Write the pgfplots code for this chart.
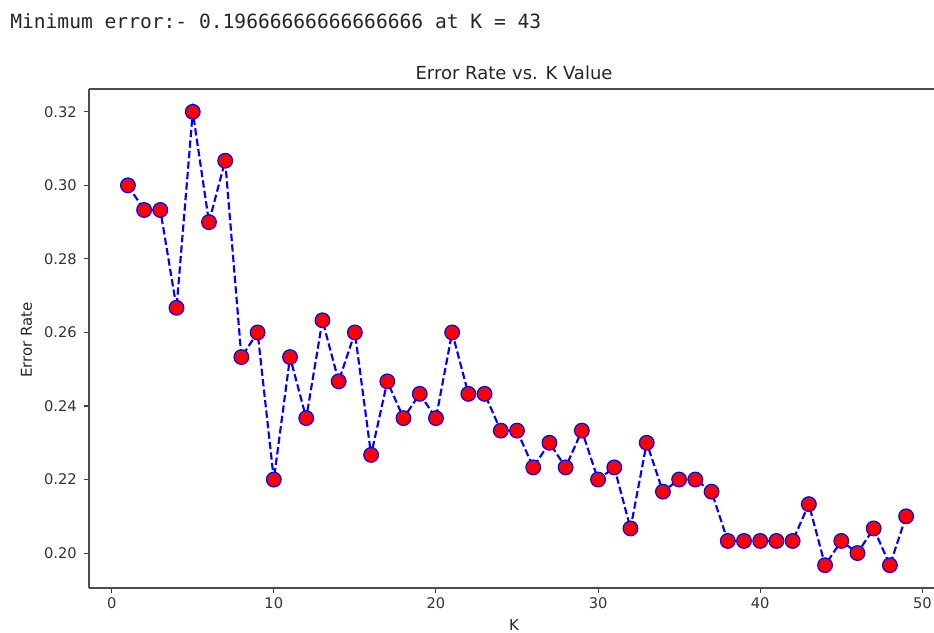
\documentclass[border=0pt]{standalone}
\usepackage{fontspec}
\setmainfont{DejaVu Sans}
\newfontfamily\mono{DejaVu Sans Mono}
\usepackage{pgfplots}
\pgfplotsset{compat=1.18}
\begin{document}
\begin{tikzpicture}[x=0.75pt,y=0.75pt]
\path[use as bounding box] (0,0) rectangle (934,632);
\coordinate (O) at (89,44);
\node[anchor=base west, font=\mono\fontsize{14.7}{17}\selectfont, text=black!85, inner sep=0pt] at (10,603) {Minimum error:- 0.19666666666666666 at K = 43};
\begin{axis}[
  at={(O)}, anchor=south west,
  scale only axis, width=633.75pt, height=374.25pt,
  xmin=-1.4, xmax=50.72, ymin=0.1905, ymax=0.3262,
  axis lines*=left,
  xtick={0,10,20,30,40,50},
  ytick={0.20,0.22,0.24,0.26,0.28,0.30,0.32},
  tick align=outside,
  major tick length=3.6pt,
  every tick/.style={black!75, line width=0.8pt},
  axis line style={black!70, line width=1.0pt},
  ticklabel style={font=\fontsize{11}{13}\selectfont, text=black!80},
  yticklabel style={xshift=-2pt},
  /pgf/number format/assume math mode=true,
  yticklabel style={/pgf/number format/.cd, fixed, fixed zerofill, precision=2},
  xticklabel style={/pgf/number format/.cd, fixed, precision=0},
  scaled y ticks=false,
  clip=false,
]
\addplot[blue, line width=1.6pt, dash pattern=on 5.5pt off 2.4pt,
  mark=*, mark size=5.5pt,
  mark options={solid, fill=red, draw=blue, line width=0.9pt}]
coordinates {
(1,0.3000) (2,0.2933) (3,0.2933) (4,0.2667) (5,0.3200) (6,0.2900) (7,0.3067)
(8,0.2533) (9,0.2600) (10,0.2200) (11,0.2533) (12,0.2367) (13,0.2633) (14,0.2467)
(15,0.2600) (16,0.2267) (17,0.2467) (18,0.2367) (19,0.2433) (20,0.2367) (21,0.2600)
(22,0.2433) (23,0.2433) (24,0.2333) (25,0.2333) (26,0.2233) (27,0.2300) (28,0.2233)
(29,0.2333) (30,0.2200) (31,0.2233) (32,0.2067) (33,0.2300) (34,0.2167) (35,0.2200)
(36,0.2200) (37,0.2167) (38,0.2033) (39,0.2033) (40,0.2033) (41,0.2033) (42,0.2033)
(43,0.2133) (44,0.1967) (45,0.2033) (46,0.2000) (47,0.2067) (48,0.1967) (49,0.2100)
};
\end{axis}
\draw[black!70, line width=1.0pt] (89,543) -- (934,543);
\node[anchor=base, font=\fontsize{13.5}{16}\selectfont, text=black!85, inner sep=0pt] at (514,552) {Error Rate vs. K Value};
\node[anchor=base, font=\fontsize{11.25}{13}\selectfont, text=black!85, inner sep=0pt] at (514,2) {K};
\node[anchor=base, rotate=90, font=\fontsize{11.25}{13}\selectfont, text=black!85, inner sep=0pt] at (32,292) {Error Rate};
\end{tikzpicture}
\end{document}
